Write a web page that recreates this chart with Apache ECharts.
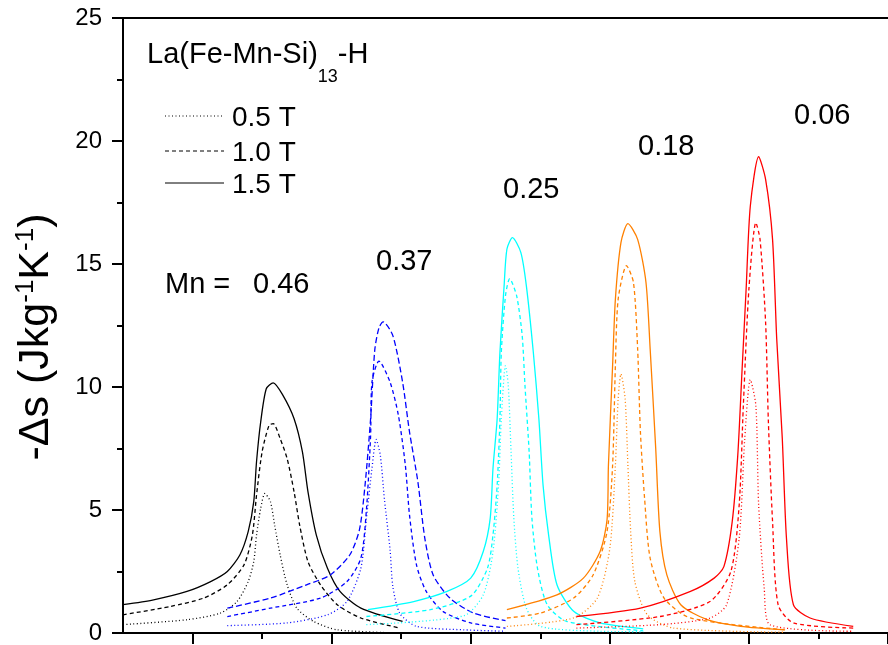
<!DOCTYPE html>
<html>
<head>
<meta charset="utf-8">
<script src="https://cdn.jsdelivr.net/npm/echarts@6/dist/echarts.min.js"></script>
<style>
  html, body { margin: 0; padding: 0; background: #fff; }
  #chart { width: 888px; height: 645px; }
</style>
</head>
<body>
<div id="chart"></div>
<script>
// temperature (K) vs -Δs (J/kg K)
var mn046_05 = [[245.0,0.34],[249.6,0.54],[252.0,0.81],[253.2,1.28],[254.0,2.09],[254.4,2.9],[254.6,3.98],[254.9,5.07],[255.2,5.67],[255.6,5.34],[255.9,4.39],[256.3,3.17],[256.8,1.96],[257.5,1.01],[258.7,0.47],[260.4,0.13],[264.9,0.0]];
var mn046_10 = [[245.0,0.74],[248.4,1.08],[250.8,1.42],[252.5,1.96],[253.7,2.77],[254.3,3.98],[254.6,5.6],[255.0,7.36],[255.5,8.44],[255.8,8.51],[256.3,7.9],[256.8,7.09],[257.3,5.74],[257.7,4.39],[258.3,2.9],[259.2,1.96],[260.4,1.15],[262.1,0.61],[264.9,0.2]];
var mn046_15 = [[245.0,1.15],[247.2,1.35],[249.6,1.69],[251.3,2.09],[252.5,2.5],[253.4,3.17],[254.0,4.12],[254.4,5.34],[254.6,6.96],[254.9,8.58],[255.3,9.93],[255.8,10.17],[256.5,9.66],[257.3,8.71],[257.9,7.36],[258.3,5.74],[258.9,3.98],[259.7,2.63],[260.6,1.69],[262.1,1.01],[265.1,0.47]];

var mn037_05 = [[252.5,0.3],[256.8,0.41],[259.7,0.74],[261.1,1.28],[262.1,2.63],[262.5,4.66],[262.9,6.69],[263.2,7.87],[263.5,7.23],[263.8,5.4],[264.2,3.4],[264.4,1.9],[264.9,0.8],[266.1,0.27],[269.5,0.13],[272.5,0.07]];
var mn037_10 = [[252.5,0.67],[255.6,1.01],[259.2,1.42],[261.1,2.09],[262.1,3.04],[262.5,5.0],[262.8,8.0],[262.9,10.2],[263.4,11.05],[264.2,10.2],[264.8,8.85],[265.3,6.82],[265.6,4.79],[266.1,2.77],[266.8,1.69],[268.0,0.88],[270.0,0.41],[272.5,0.2]];
var mn037_15 = [[252.5,1.01],[255.6,1.42],[258.2,1.96],[259.9,2.36],[261.3,3.17],[262.0,4.2],[262.4,6.0],[262.8,8.7],[263.1,11.5],[263.4,12.4],[263.7,12.65],[264.4,12.09],[265.1,10.2],[265.6,8.17],[266.2,6.15],[266.7,3.85],[267.3,2.36],[268.5,1.42],[270.2,0.81],[272.5,0.5]];

var mn025_05 = [[262.5,0.34],[269.5,0.7],[270.9,1.55],[271.6,3.31],[272.0,6.01],[272.2,8.71],[272.5,10.87],[272.7,10.06],[272.9,7.36],[273.1,4.66],[273.4,2.63],[274.0,1.01],[275.0,0.27],[279.3,0.07],[282.4,0.05]];
var mn025_10 = [[262.5,0.67],[267.1,0.95],[270.0,1.5],[271.2,2.63],[271.6,3.98],[271.9,6.01],[272.1,8.71],[272.2,11.41],[272.5,13.71],[272.8,14.4],[273.3,13.71],[273.7,12.09],[273.9,10.06],[274.2,7.36],[274.4,4.66],[274.8,2.63],[275.5,1.15],[276.9,0.47],[282.4,0.09]];
var mn025_15 = [[262.6,0.95],[265.9,1.28],[268.3,1.69],[270.0,2.23],[270.9,3.31],[271.4,4.66],[271.6,6.69],[271.9,8.71],[272.1,11.41],[272.4,14.11],[272.6,15.6],[273.0,16.07],[273.6,15.47],[274.0,14.11],[274.5,11.41],[274.9,8.71],[275.2,6.01],[275.6,3.98],[276.2,1.96],[277.4,0.88],[279.3,0.41],[282.4,0.17]];

var mn018_05 = [[272.6,0.27],[277.4,0.61],[279.1,1.42],[280.0,3.44],[280.4,6.82],[280.6,9.52],[280.8,10.53],[281.1,9.52],[281.3,6.82],[281.5,4.12],[281.8,2.09],[282.7,0.74],[284.6,0.2],[292.6,0.03]];
var mn018_10 = [[272.6,0.61],[275.0,0.81],[277.4,1.42],[278.8,2.36],[279.8,4.12],[280.2,6.82],[280.4,10.87],[280.6,13.57],[281.2,14.93],[281.7,14.25],[282.0,11.55],[282.2,8.17],[282.5,5.47],[282.9,3.04],[283.9,1.42],[285.8,0.61],[292.6,0.13]];
var mn018_15 = [[272.6,0.95],[276.2,1.55],[278.1,2.23],[279.3,3.31],[279.8,4.6],[279.9,6.82],[280.2,10.87],[280.4,13.57],[280.8,15.87],[281.3,16.64],[282.0,16.0],[282.6,14.25],[282.9,11.55],[283.3,7.5],[283.6,4.12],[284.1,2.36],[285.1,1.15],[287.0,0.54],[289.4,0.27],[292.6,0.13]];

var mn006_05 = [[277.6,0.2],[283.6,0.34],[287.2,0.61],[288.4,1.15],[289.3,3.85],[289.7,7.9],[290.1,10.3],[290.5,9.25],[290.7,5.2],[291.1,1.82],[291.5,0.34],[297.5,0.07]];
var mn006_10 = [[277.6,0.34],[283.6,0.67],[287.2,1.28],[288.7,2.5],[289.3,5.2],[289.6,9.25],[290.0,13.98],[290.5,16.68],[290.8,16.0],[291.2,12.63],[291.4,8.58],[291.7,4.53],[292.1,1.15],[293.2,0.41],[297.5,0.2]];
var mn006_15 = [[277.6,0.67],[282.2,1.01],[285.8,1.69],[287.5,2.23],[288.2,2.7],[288.8,4.53],[289.2,7.23],[289.5,10.6],[289.8,13.98],[290.1,17.35],[290.7,19.36],[291.2,18.44],[291.7,16.0],[292.0,11.95],[292.4,7.9],[292.7,3.85],[293.2,1.15],[294.4,0.61],[297.5,0.27]];

var fields = ["0.5 T", "1.0 T", "1.5 T"];
var mnLabels = ["0.46", "0.37", "0.25", "0.18", "0.06"];
var yTicks = [0, 5, 10, 15, 20, 25];
var xMajor = [250, 260, 270, 280, 290, 300];
var xMinor = [255, 265, 275, 285, 295];

var groups = [
  { mn: "0.46", color: "#000000", data: [mn046_05, mn046_10, mn046_15], types: [[1, 2.5], [4, 3], "solid"] },
  { mn: "0.37", color: "#0000ff", data: [mn037_05, mn037_10, mn037_15], types: [[1, 2.5], [4, 3], [6, 3]] },
  { mn: "0.25", color: "#00ffff", data: [mn025_05, mn025_10, mn025_15], types: [[1, 2.5], [4, 3], "solid"] },
  { mn: "0.18", color: "#ff8000", data: [mn018_05, mn018_10, mn018_15], types: [[1, 2.5], [4, 3], "solid"] },
  { mn: "0.06", color: "#ff0000", data: [mn006_05, mn006_10, mn006_15], types: [[1, 2.5], [4, 3], "solid"] }
];

var font = "Liberation Sans, Arial, sans-serif";

var series = [];
groups.forEach(function(g) {
  g.data.forEach(function(d, i) {
    series.push({
      name: "Mn " + g.mn + " " + fields[i],
      type: "line",
      data: d,
      smooth: 0.25,
      symbol: "none",
      lineStyle: { color: g.color, width: 1.3, type: g.types[i] }
    });
  });
});

var chart = echarts.init(document.getElementById("chart"));

var legendY = [116, 151, 183];
var legendDash = [[1, 2.5], [4, 3], null];
var graphics = [];
fields.forEach(function(f, i) {
  graphics.push({
    type: "line",
    shape: { x1: 165, y1: legendY[i], x2: 224, y2: legendY[i] },
    style: { stroke: "#000", lineWidth: 1, lineDash: legendDash[i] }
  });
  graphics.push({
    type: "text", left: 232, top: legendY[i] - 12,
    style: { text: f, font: "28px " + font, fill: "#000" }
  });
});

// title with subscript
graphics.push({
  type: "text", left: 147, top: 40,
  style: {
    text: "{a|La(Fe-Mn-Si)}{b|13}{a|-H}",
    rich: {
      a: { fontSize: 29, fontFamily: font, color: "#000", lineHeight: 34, verticalAlign: "top" },
      b: { fontSize: 18, fontFamily: font, color: "#000", lineHeight: 34, verticalAlign: "bottom", padding: [0, 0, -12, 0] }
    }
  }
});

// composition labels near the peaks
var mnPos = [[253, 286], [376, 263], [503, 191], [638, 148], [794, 117]];
graphics.push({
  type: "text", left: 165, top: 286 - 16,
  style: { text: "Mn =", font: "29px " + font, fill: "#000" }
});
mnLabels.forEach(function(m, i) {
  graphics.push({
    type: "text", left: mnPos[i][0], top: mnPos[i][1] - 16,
    style: { text: m, font: "29px " + font, fill: "#000" }
  });
});

// y axis title
graphics.push({
  type: "text", x: 36, y: 337, rotation: Math.PI / 2,
  style: {
    text: "{a|-Δs (Jkg}{s|-1}{a|K}{s|-1}{a|)}",
    align: "center", verticalAlign: "middle",
    rich: {
      a: { fontSize: 43, fontFamily: font, color: "#000", lineHeight: 46 },
      s: { fontSize: 26, fontFamily: font, color: "#000", lineHeight: 46, verticalAlign: "top" }
    }
  }
});

var option = {
  animation: false,
  backgroundColor: "#fff",
  grid: { left: 123, top: 18, right: 0, bottom: 10 },
  xAxis: [
    {
      type: "value", min: 245, max: 300, position: "bottom",
      axisLine: { show: true, lineStyle: { color: "#000", width: 2 } },
      axisTick: { show: true, inside: false, length: 11, customValues: xMajor, lineStyle: { color: "#000", width: 2 } },
      axisLabel: { show: false },
      splitLine: { show: false }
    },
    {
      type: "value", min: 245, max: 300, position: "bottom",
      axisLine: { show: false },
      axisTick: { show: true, inside: false, length: 6, customValues: xMinor, lineStyle: { color: "#000", width: 2 } },
      axisLabel: { show: false },
      splitLine: { show: false }
    },
    {
      type: "value", min: 245, max: 300, position: "top",
      axisLine: { show: true, lineStyle: { color: "#000", width: 2 } },
      axisTick: { show: false }, axisLabel: { show: false }, splitLine: { show: false }
    }
  ],
  yAxis: {
    type: "value", min: yTicks[0], max: yTicks[yTicks.length - 1], interval: 5,
    axisLine: { show: true, lineStyle: { color: "#000", width: 2 } },
    axisTick: { show: true, inside: false, length: 11, lineStyle: { color: "#000", width: 2 } },
    minorTick: { show: true, splitNumber: 2, length: 6, lineStyle: { color: "#000", width: 2 } },
    axisLabel: { margin: 21, fontSize: 24, fontFamily: font, color: "#000" },
    splitLine: { show: false }
  },
  graphic: graphics,
  series: series
};

chart.setOption(option);
</script>
</body>
</html>
